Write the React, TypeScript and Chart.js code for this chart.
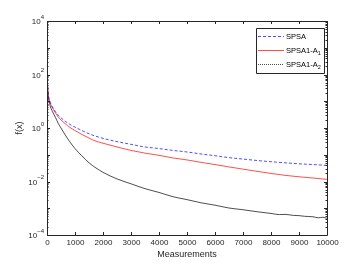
import React, { useEffect, useRef } from "react";
import { Chart, registerables } from "chart.js";

Chart.register(...registerables);

// Measurements (x) shared by the SPSA and SPSA1-A1 curves
const measurements = [0, 25, 50, 100, 150, 200, 300, 400, 500, 650, 800, 1000, 1250, 1500, 1750, 2000, 2500, 3000, 3500, 4000, 4500, 5000, 5500, 6000, 6500, 7000, 7500, 8000, 8500, 9000, 9500, 10000];
const spsa = [200, 35, 17, 10, 7.5, 6, 4.1, 3.0, 2.4, 1.8, 1.4, 1.08, 0.8, 0.61, 0.49, 0.41, 0.31, 0.245, 0.195, 0.17, 0.145, 0.127, 0.107, 0.092, 0.078, 0.069, 0.061, 0.055, 0.05, 0.046, 0.043, 0.04];
const spsaA1 = [200, 33, 16, 9.5, 7, 5.5, 3.7, 2.6, 2.0, 1.45, 1.08, 0.8, 0.57, 0.42, 0.32, 0.27, 0.195, 0.145, 0.115, 0.095, 0.076, 0.064, 0.052, 0.043, 0.035, 0.029, 0.024, 0.02, 0.017, 0.015, 0.0135, 0.012];

// Measurements (x) for the SPSA1-A2 curve
const measurementsA2 = [0, 25, 50, 100, 150, 200, 300, 400, 500, 650, 800, 1000, 1250, 1500, 1750, 2000, 2500, 3000, 3500, 4000, 4500, 5000, 5500, 6000, 6500, 7000, 7500, 8000, 8300, 8500, 8800, 9000, 9200, 9500, 9700, 9850, 10000];
const spsaA2 = [200, 30, 14, 7.5, 5.2, 4.0, 2.5, 1.5, 1.0, 0.55, 0.32, 0.17, 0.09, 0.05, 0.032, 0.022, 0.0125, 0.0082, 0.0054, 0.0039, 0.0027, 0.0021, 0.0016, 0.0013, 0.00102, 0.00088, 0.00074, 0.00064, 0.00058, 0.00059, 0.00054, 0.00053, 0.0005, 0.00048, 0.00044, 0.00046, 0.00042];

const xTicks = [0, 1000, 2000, 3000, 4000, 5000, 6000, 7000, 8000, 9000, 10000];
const yExponents = [-4, -2, 0, 2, 4];

const seriesNames = ["SPSA", "SPSA1-A", "SPSA1-A"];
const seriesSubs = ["", "1", "2"];
const seriesColors = ["#0000ff", "#ff0000", "#000000"];
const xTitle = "Measurements";
const yTitle = "f(x)";

const AXIS = "#262626";
const FONT = "Liberation Sans, Arial, sans-serif";

const axesPlugin = {
  id: "matlabAxes",
  afterDraw(chart: any) {
    const ctx = chart.ctx;
    const xs = chart.scales.x;
    const ys = chart.scales.y;
    const a = chart.chartArea;
    ctx.save();
    ctx.strokeStyle = AXIS;
    ctx.lineWidth = 1;
    ctx.beginPath();
    ctx.rect(Math.round(a.left) + 0.5, Math.round(a.top) + 0.5, Math.round(a.right - a.left), Math.round(a.bottom - a.top));
    ctx.stroke();
    // x ticks
    ctx.fillStyle = AXIS;
    ctx.font = `8px ${FONT}`;
    ctx.textAlign = "center";
    ctx.textBaseline = "top";
    for (const t of xTicks) {
      const px = Math.round(xs.getPixelForValue(t)) + 0.5;
      ctx.beginPath();
      ctx.moveTo(px, a.bottom);
      ctx.lineTo(px, a.bottom - 3);
      ctx.moveTo(px, a.top);
      ctx.lineTo(px, a.top + 3);
      ctx.stroke();
      ctx.fillText(String(t), px, a.bottom + 4);
    }
    // y ticks
    for (let k = -4; k <= 4; k++) {
      for (let m = 1; m <= 9; m++) {
        const v = m * Math.pow(10, k);
        if (v > 1e4 * 1.0001) continue;
        const py = Math.round(ys.getPixelForValue(v)) + 0.5;
        const len = m === 1 ? 3 : 1.5;
        ctx.beginPath();
        ctx.moveTo(a.left, py);
        ctx.lineTo(a.left + len, py);
        ctx.moveTo(a.right, py);
        ctx.lineTo(a.right - len, py);
        ctx.stroke();
      }
    }
    ctx.textBaseline = "middle";
    for (const e of yExponents) {
      const py = ys.getPixelForValue(Math.pow(10, e));
      const ex = String(e).replace("-", "\u2212");
      ctx.font = `6px ${FONT}`;
      const ew = ctx.measureText(ex).width;
      ctx.textAlign = "right";
      ctx.fillText(ex, a.left - 3, py - 4);
      ctx.font = `8px ${FONT}`;
      ctx.fillText("10", a.left - 3 - ew, py + 1);
    }
    // titles
    ctx.font = `9px ${FONT}`;
    ctx.textAlign = "center";
    ctx.textBaseline = "top";
    ctx.fillText(xTitle, (a.left + a.right) / 2, a.bottom + 15);
    ctx.save();
    ctx.translate(a.left - 27, (a.top + a.bottom) / 2);
    ctx.rotate(-Math.PI / 2);
    ctx.textBaseline = "middle";
    ctx.fillText(yTitle, 0, 0);
    ctx.restore();
    // legend
    const lx = a.right - 71, ly = a.top + 7, lw = 68, lh = 45;
    ctx.fillStyle = "#ffffff";
    ctx.fillRect(lx, ly, lw, lh);
    ctx.strokeStyle = AXIS;
    ctx.beginPath();
    ctx.rect(Math.round(lx) + 0.5, Math.round(ly) + 0.5, lw, lh);
    ctx.stroke();
    const dashes = [[3, 2], [], [1, 1]];
    for (let i = 0; i < 3; i++) {
      const yy = Math.round(ly + 7.5 + i * 14) + 0.5;
      ctx.strokeStyle = seriesColors[i];
      ctx.lineWidth = 0.7;
      ctx.setLineDash(dashes[i]);
      ctx.beginPath();
      ctx.moveTo(lx + 2, yy);
      ctx.lineTo(lx + 28, yy);
      ctx.stroke();
      ctx.setLineDash([]);
      ctx.fillStyle = "#000000";
      ctx.font = `7.5px ${FONT}`;
      ctx.textAlign = "left";
      ctx.textBaseline = "middle";
      ctx.fillText(seriesNames[i], lx + 30, yy);
      if (seriesSubs[i]) {
        const w = ctx.measureText(seriesNames[i]).width;
        ctx.font = `5.5px ${FONT}`;
        ctx.fillText(seriesSubs[i], lx + 30 + w, yy + 3);
      }
    }
    ctx.restore();
  },
};

export default function App() {
  const ref = useRef<HTMLCanvasElement>(null);
  useEffect(() => {
    document.body.style.margin = "0";
    const chart = new Chart(ref.current!, {
      type: "line",
      data: {
        datasets: [
          {
            label: "SPSA",
            data: measurements.map((x, i) => ({ x, y: spsa[i] })),
            borderColor: seriesColors[0],
            borderWidth: 0.7,
            borderDash: [3, 2],
            pointRadius: 0,
            cubicInterpolationMode: "monotone",
          },
          {
            label: "SPSA1-A1",
            data: measurements.map((x, i) => ({ x, y: spsaA1[i] })),
            borderColor: seriesColors[1],
            borderWidth: 0.7,
            pointRadius: 0,
            cubicInterpolationMode: "monotone",
          },
          {
            label: "SPSA1-A2",
            data: measurementsA2.map((x, i) => ({ x, y: spsaA2[i] })),
            borderColor: seriesColors[2],
            borderWidth: 0.7,
            pointRadius: 0,
            cubicInterpolationMode: "monotone",
          },
        ],
      },
      options: {
        responsive: false,
        animation: false,
        layout: { padding: { left: 47, right: 36, top: 21, bottom: 30 } },
        plugins: { legend: { display: false }, tooltip: { enabled: false } },
        scales: {
          x: {
            type: "linear",
            min: 0,
            max: 10000,
            ticks: { display: false },
            grid: { display: false },
            border: { display: false },
            afterFit: (s: any) => { s.height = 0; s.paddingLeft = 0; s.paddingRight = 0; },
          },
          y: {
            type: "logarithmic",
            min: 1e-4,
            max: 1e4,
            ticks: { display: false },
            grid: { display: false },
            border: { display: false },
            afterFit: (s: any) => { s.width = 0; s.paddingTop = 0; s.paddingBottom = 0; },
          },
        },
      },
      plugins: [axesPlugin],
    });
    return () => chart.destroy();
  }, []);
  return <canvas ref={ref} width={363} height={265} />;
}
